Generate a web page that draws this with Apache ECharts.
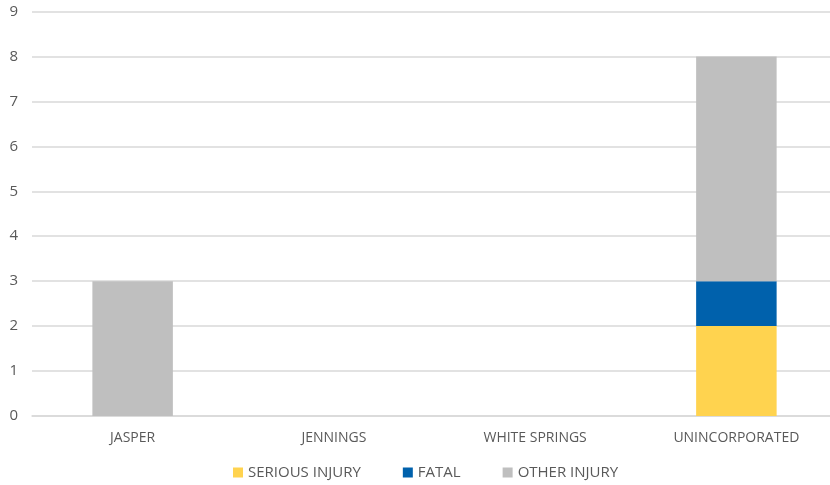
<!DOCTYPE html>
<html><head><meta charset="utf-8">
<script src="https://cdn.jsdelivr.net/npm/echarts@6/dist/echarts.min.js"></script>
<style>html,body{margin:0;padding:0;background:#fff}#c{width:830px;height:485px}</style>
</head><body><div id="c"></div>
<script>
const categories = ["JASPER", "JENNINGS", "WHITE SPRINGS", "UNINCORPORATED"];
const seriousInjury = [0, 0, 0, 2];
const fatal = [0, 0, 0, 1];
const otherInjury = [3, 0, 0, 5];
const yTicks = [0, 1, 2, 3, 4, 5, 6, 7, 8, 9];

const chart = echarts.init(document.getElementById('c'));
const font = '"Open Sans", "Noto Sans", sans-serif';
function s(name, data, color) {
  return { name, type: 'bar', stack: 'a', data, barWidth: '40%', itemStyle: { color }, emphasis: { disabled: true } };
}
chart.setOption({
  animation: false,
  grid: { left: 32, width: 805, top: 11.5, bottom: 69, containLabel: false, outerBoundsMode: 'none' },
  legend: {
    bottom: 0, left: 228, itemWidth: 10, itemHeight: 10, itemGap: 42, icon: 'rect',
    textStyle: { color: '#595959', fontSize: 15, fontFamily: font }
  },
  xAxis: {
    type: 'category', data: categories,
    axisLine: { lineStyle: { color: '#d9d9d9', width: 1.5 } },
    axisTick: { show: false },
    axisLabel: { color: '#595959', fontSize: 14, fontFamily: font, margin: 15 }
  },
  yAxis: {
    type: 'value', min: yTicks[0], max: yTicks[yTicks.length - 1], interval: 1,
    axisLine: { show: false }, axisTick: { show: false },
    splitLine: { lineStyle: { color: '#d9d9d9', width: 1.5 } },
    axisLabel: { color: '#595959', fontSize: 15, fontFamily: font, margin: 14 }
  },
  series: [
    s('SERIOUS INJURY', seriousInjury, '#ffd34f'),
    s('FATAL', fatal, '#0061ac'),
    s('OTHER INJURY', otherInjury, '#bfbfbf')
  ]
});
</script></body></html>
